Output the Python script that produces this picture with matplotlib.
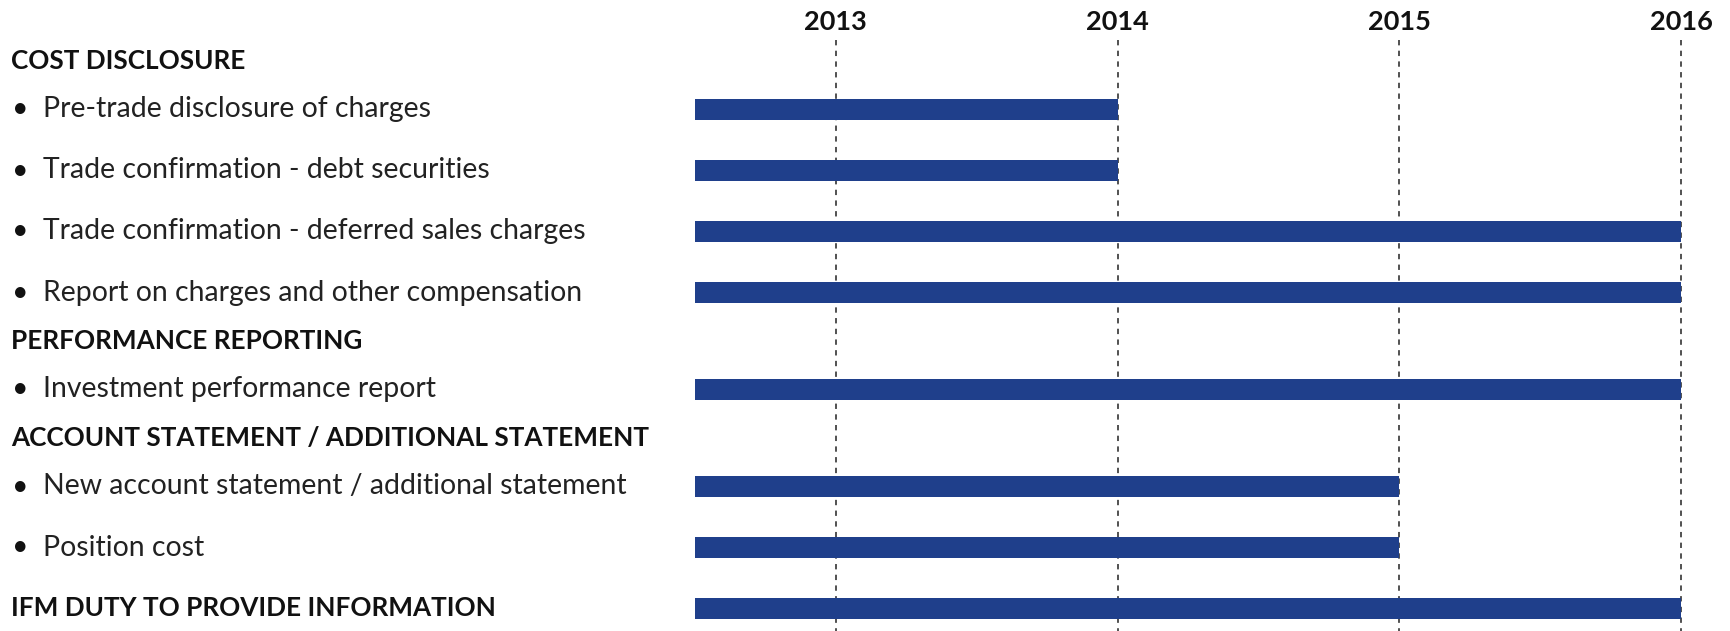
import numpy as np
import matplotlib
matplotlib.use("Agg")
import matplotlib.pyplot as plt
from matplotlib import transforms

# rows of the timeline, top to bottom
labels = [
    "COST DISCLOSURE",
    "Pre-trade disclosure of charges",
    "Trade confirmation - debt securities",
    "Trade confirmation - deferred sales charges",
    "Report on charges and other compensation",
    "PERFORMANCE REPORTING",
    "Investment performance report",
    "ACCOUNT STATEMENT / ADDITIONAL STATEMENT",
    "New account statement / additional statement",
    "Position cost",
    "IFM DUTY TO PROVIDE INFORMATION",
]
is_header = [True, False, False, False, False, True, False, True, False, False, True]
bar_start = 2012.5
bar_end = [None, 2014, 2014, 2016, 2016, None, 2016, None, 2015, 2015, 2016]
years = [2013, 2014, 2015, 2016]

W, H = 1731, 631
fig = plt.figure(figsize=(W / 100, H / 100), dpi=100)
ax = fig.add_axes([0, 0, 1, 1])

# pixel layout -> data limits so that 2012.5 sits at x=695 and 2016 at x=1681
px_per_year = (1681 - 695) / (2016 - bar_start)
ax.set_xlim(bar_start - 695 / px_per_year, 2016 + (W - 1681) / px_per_year)
ax.set_ylim(H, 0)
ax.axis("off")

# vertical positions: tighter spacing around section headers
ys = [61.0]
for i in range(1, len(labels)):
    both_bars = bar_end[i] is not None and bar_end[i - 1] is not None
    ys.append(ys[-1] + (61 if both_bars else 48.5))

blue = "#1f3f8b"
fam = ["Lato", "DejaVu Sans"]
fs_item = 20.4
fs_head = 18.8
fs_year = 19.5

for yr in years:
    ax.vlines(yr, 40, H, colors="#222222", linestyles=(0, (3.5, 3.5)), linewidth=1.1, zorder=1)
    ax.text(yr, 22, str(yr), ha="center", va="center", fontsize=fs_year,
            fontweight="bold", family=fam, color="#111111")

for y, end in zip(ys, bar_end):
    if end is not None:
        ax.barh(y, end - bar_start, left=bar_start, height=21, color=blue, zorder=2)

tr = transforms.blended_transform_factory(fig.transFigure, ax.transData)
for y, lab, hd in zip(ys, labels, is_header):
    if hd:
        ax.text(11 / W, y, lab, transform=tr, ha="left", va="center", fontsize=fs_head,
                fontweight="bold", family=fam, color="#111111")
    else:
        ax.text(12 / W, y, "\u2022", transform=tr, ha="left", va="center", fontsize=fs_item,
                family=fam, color="#111111")
        ax.text(43 / W, y, lab, transform=tr, ha="left", va="center", fontsize=fs_item,
                family=fam, color="#222222")

fig.savefig("out.png", dpi=100, facecolor="white")
